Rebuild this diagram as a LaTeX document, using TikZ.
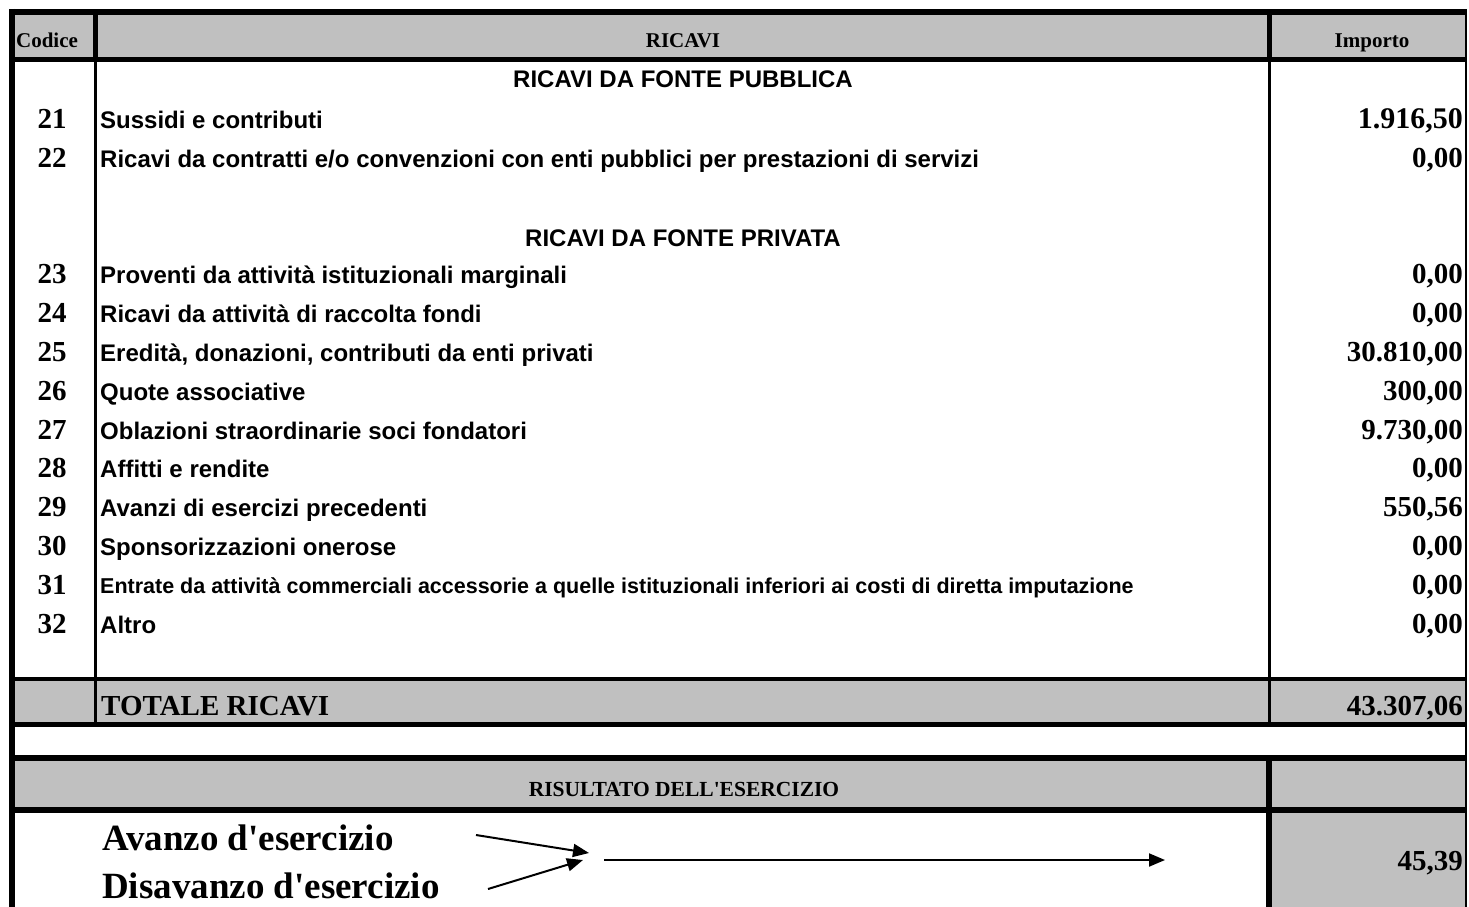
\documentclass[tikz,border=0pt]{standalone}
\usepackage{fontspec}
\setmainfont{Liberation Serif}
\newfontfamily\timesfont{Liberation Serif}
\newfontfamily\arialfont{Liberation Sans}
\usetikzlibrary{arrows.meta}
\definecolor{cellgray}{RGB}{192,192,192}
\tikzset{
  thickrule/.style={line width=6pt},
  thinrule/.style={line width=3.5pt},
  edgerule/.style={line width=2.5pt},
  hdrtext/.style={font=\timesfont\fontsize{21}{21}\selectfont\bfseries, anchor=base, inner sep=0pt},
  codetext/.style={font=\timesfont\fontsize{29}{29}\selectfont\bfseries, anchor=base, inner sep=0pt},
  lbltext/.style={font=\arialfont\fontsize{24}{24}\selectfont\bfseries, anchor=base west, inner sep=0pt},
  sectext/.style={font=\arialfont\fontsize{24}{24}\selectfont\bfseries, anchor=base, inner sep=0pt},
  numtext/.style={font=\timesfont\fontsize{29}{29}\selectfont\bfseries, anchor=base east, inner sep=0pt},
  bigtext/.style={font=\timesfont\fontsize{37}{37}\selectfont\bfseries, anchor=base west, inner sep=0pt},
  arr/.style={line width=2pt, -{Triangle[length=16pt,width=13pt]}}
}
\begin{document}
\begin{tikzpicture}[x=1pt,y=-1pt]
\useasboundingbox (0,0) rectangle (1469,907);
\fill[white] (0,0) rectangle (1469,907);
% gray cells
\fill[cellgray] (12,12) rectangle (1466,60);
\fill[cellgray] (12,679) rectangle (1466,724);
\fill[cellgray] (12,758) rectangle (1466,809);
\fill[cellgray] (1269,809) rectangle (1466,907);
% rules
\draw[edgerule] (1466,12) -- (1466,907);
\draw[thickrule] (9,12) -- (1467,12);
\draw[thickrule] (12,9) -- (12,907);
\draw[line width=5pt] (12,59.5) -- (1466,59.5);
\draw[line width=5pt] (95.5,12) -- (95.5,60);
\draw[line width=5pt] (1269.5,12) -- (1269.5,60);
\draw[thinrule] (95.5,60) -- (95.5,724);
\draw[thinrule] (1269.5,60) -- (1269.5,724);
\draw[line width=4pt] (12,679) -- (1466,679);
\draw[line width=5.5pt] (12,724.5) -- (1467,724.5);
\draw[thickrule] (12,758) -- (1467,758);
\draw[thickrule] (12,809.5) -- (1467,809.5);
\draw[thickrule] (1269,758) -- (1269,907);
% header
\node[hdrtext] (hcod) at (47,48) {Codice};
\node[hdrtext] (hric) at (683,48) {RICAVI};
\node[hdrtext] (himp) at (1372,48) {Importo};
% sections
\node[sectext] (spub) at (683,87) {RICAVI DA FONTE PUBBLICA};
\node[sectext] (spri) at (683,246) {RICAVI DA FONTE PRIVATA};
% rows
\node[codetext] (c21) at (52,128) {21};
\node[lbltext] (l21) at (100,128) {Sussidi e contributi};
\node[numtext, font=\timesfont\fontsize{30}{30}\selectfont\bfseries] (n21) at (1463,128) {1.916,50};
\node[codetext] (c22) at (52,167) {22};
\node[lbltext] (l22) at (100,167) {Ricavi da contratti e/o convenzioni con enti pubblici per prestazioni di servizi};
\node[numtext] (n22) at (1463,167) {0,00};
\node[codetext] (c23) at (52,283) {23};
\node[lbltext] (l23) at (100,283) {Proventi da attività istituzionali marginali};
\node[numtext] (n23) at (1463,283) {0,00};
\node[codetext] (c24) at (52,322) {24};
\node[lbltext] (l24) at (100,322) {Ricavi da attività di raccolta fondi};
\node[numtext] (n24) at (1463,322) {0,00};
\node[codetext] (c25) at (52,361) {25};
\node[lbltext] (l25) at (100,361) {Eredità, donazioni, contributi da enti privati};
\node[numtext] (n25) at (1463,361) {30.810,00};
\node[codetext] (c26) at (52,400) {26};
\node[lbltext] (l26) at (100,400) {Quote associative};
\node[numtext] (n26) at (1463,400) {300,00};
\node[codetext] (c27) at (52,439) {27};
\node[lbltext] (l27) at (100,439) {Oblazioni straordinarie soci fondatori};
\node[numtext] (n27) at (1463,439) {9.730,00};
\node[codetext] (c28) at (52,477) {28};
\node[lbltext] (l28) at (100,477) {Affitti e rendite};
\node[numtext] (n28) at (1463,477) {0,00};
\node[codetext] (c29) at (52,516) {29};
\node[lbltext] (l29) at (100,516) {Avanzi di esercizi precedenti};
\node[numtext] (n29) at (1463,516) {550,56};
\node[codetext] (c30) at (52,555) {30};
\node[lbltext] (l30) at (100,555) {Sponsorizzazioni onerose};
\node[numtext] (n30) at (1463,555) {0,00};
\node[codetext] (c31) at (52,594) {31};
\node[lbltext, font=\arialfont\fontsize{21.5}{21.5}\selectfont\bfseries] (l31) at (100,593) {Entrate da attività commerciali accessorie a quelle istituzionali inferiori ai costi di diretta imputazione};
\node[numtext] (n31) at (1463,594) {0,00};
\node[codetext] (c32) at (52,633) {32};
\node[lbltext] (l32) at (100,633) {Altro};
\node[numtext] (n32) at (1463,633) {0,00};
% totals
\node[bigtext, font=\timesfont\fontsize{29}{29}\selectfont\bfseries] (tot) at (101,715) {TOTALE RICAVI};
\node[numtext] (ntot) at (1463,715) {43.307,06};
\node[hdrtext, font=\timesfont\fontsize{21.5}{21.5}\selectfont\bfseries] (ris) at (684,796) {RISULTATO DELL'ESERCIZIO};
\node[bigtext] (av) at (102,850) {Avanzo d'esercizio};
\node[bigtext] (dis) at (102,898) {Disavanzo d'esercizio};
\node[numtext] (nris) at (1463,870) {45,39};
% arrows
\coordinate (a1s) at (476,835);
\coordinate (a1e) at (589,853);
\coordinate (a2s) at (488,889);
\coordinate (a2e) at (583,860);
\coordinate (a3s) at (604,860);
\coordinate (a3e) at (1165,860);
\draw[arr] (a1s) -- (a1e);
\draw[arr] (a2s) -- (a2e);
\draw[arr] (a3s) -- (a3e);
\end{tikzpicture}
\end{document}
